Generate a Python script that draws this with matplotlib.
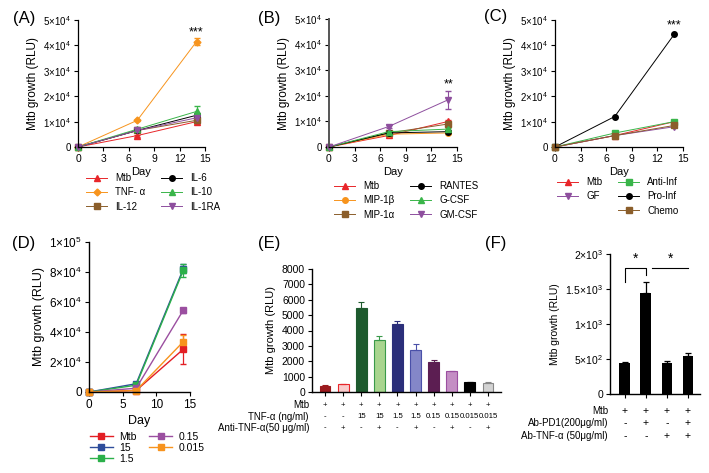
import matplotlib
matplotlib.use('Agg')
import matplotlib.pyplot as plt
import numpy as np

plt.rcParams['font.family'] = ['Liberation Sans', 'DejaVu Sans']
plt.rcParams['font.size'] = 7
plt.rcParams['mathtext.fontset'] = 'custom'
plt.rcParams['mathtext.rm'] = 'Liberation Sans'
plt.rcParams['mathtext.it'] = 'Liberation Sans'
plt.rcParams['mathtext.default'] = 'regular'

W, H = 709, 473
days = [0, 7, 14]

# ---- panel A: cytokines (RLU)
a_names = ['Mtb', 'TNF- α', 'IL-12', 'IL-6', 'IL-10', 'IL-1RA']
a_vals = [[0, 4500, 10000], [0, 10500, 41500], [0, 6500, 10500],
          [0, 6500, 12500], [0, 7000, 14000], [0, 6500, 11500]]
a_errs = [[0, 400, 500], [0, 300, 1500], [0, 300, 800],
          [0, 400, 1000], [0, 400, 2000], [0, 300, 800]]
a_sty = [('#e8262a', '^'), ('#f7941d', 'D'), ('#8b5e2b', 's'),
         ('black', 'o'), ('#3ab54a', '^'), ('#8e4f9e', 'v')]

# ---- panel B: chemokines / CSF
b_names = ['Mtb', 'MIP-1β', 'MIP-1α', 'RANTES', 'G-CSF', 'GM-CSF']
b_vals = [[0, 4500, 10000], [0, 5000, 5500], [0, 5500, 9000],
          [0, 5500, 6000], [0, 6000, 7000], [0, 8000, 18500]]
b_errs = [[0, 300, 600], [0, 300, 600], [0, 300, 600],
          [0, 300, 500], [0, 300, 500], [0, 500, 3500]]
b_sty = [('#e8262a', '^'), ('#f7941d', 'o'), ('#8b5e2b', 's'),
         ('black', 'o'), ('#3ab54a', '^'), ('#8e4f9e', 'v')]

# ---- panel C: groups
c_names = ['Mtb', 'GF', 'Anti-Inf', 'Pro-Inf', 'Chemo']
c_vals = [[0, 4500, 10000], [0, 4500, 8000], [0, 5500, 10000],
          [0, 12000, 44500], [0, 4500, 8500]]
c_sty = [('#e8262a', '^'), ('#8e4f9e', 'v'), ('#3ab54a', 's'),
         ('black', 'o'), ('#8b5e2b', 's')]

# ---- panel D: TNF dose
d_names = ['Mtb', '15', '1.5', '0.15', '0.015']
d_vals = [[0, 1000, 28500], [0, 5500, 82000], [0, 4500, 81000],
          [0, 2500, 54500], [0, 1000, 33500]]
d_errs = [[0, 300, 10000], [0, 300, 3000], [0, 300, 4500],
          [0, 300, 1500], [0, 300, 4500]]
d_cols = ['#e31e24', '#2e4d9b', '#2bb04a', '#9b4fa0', '#f7931e']

# ---- panel E: bars
e_vals = [400, 500, 5450, 3400, 4400, 2750, 1950, 1350, 650, 600]
e_errs = [40, 50, 400, 250, 250, 400, 100, 40, 30, 30]
e_face = ['#9b1b1e', '#f9cccc', '#1e5a2e', '#a9d58f', '#2b2f7a',
          '#8487c8', '#5c1e52', '#c48ec4', 'black', '#d3d3d3']
e_edge = ['#9b1b1e', '#e8262a', '#1e5a2e', '#3a9a4a', '#2b2f7a',
          '#4a50a8', '#5c1e52', '#9b4fa0', 'black', '#888888']
e_mtb = ['+'] * 10
e_tnf = ['-', '-', '15', '15', '1.5', '1.5', '0.15', '0.15', '0.015', '0.015']
e_anti = ['-', '+'] * 5

# ---- panel F: bars
f_vals = [440, 1450, 450, 550]
f_errs = [15, 150, 25, 40]
f_mtb = ['+'] * 4
f_pd1 = ['-', '+', '-', '+']
f_tnf = ['-', '-', '+', '+']


def px(l, t, r, b):
    return [l / W, 1 - b / H, (r - l) / W, (b - t) / H]


def style(ax, lw=0.9, ls=7.5):
    for s in ['top', 'right']:
        ax.spines[s].set_visible(False)
    for s in ['left', 'bottom']:
        ax.spines[s].set_linewidth(lw)
    ax.tick_params(direction='out', length=3, width=0.8, labelsize=ls, pad=2)


def sup(n, e):
    return r'$%s{\times}10^{%d}$' % (n, e)


fig = plt.figure(figsize=(W / 100, H / 100), dpi=100)


def line_panel(rect, names, vals, errs, sty, stars, star_x, star_y, leg_xy, blank=None):
    ax = fig.add_axes(px(*rect))
    style(ax)
    hs = []
    for i in range(len(names)):
        c, m = sty[i]
        e = errs[i] if errs is not None else None
        h = ax.errorbar(days, vals[i], yerr=e, color=c, marker=m, ms=4 if m != 'D' else 3.5,
                        lw=0.7, elinewidth=0.8, capsize=2, clip_on=False, label=names[i])
        hs.append(h[0])
    ax.set_xlim(0, 15)
    ax.set_ylim(0, 50000)
    ax.set_xticks([0, 3, 6, 9, 12, 15])
    ax.set_yticks([0, 10000, 20000, 30000, 40000, 50000])
    ax.set_yticklabels(['0'] + [sup(k, 4) for k in range(1, 6)], fontsize=7)
    ax.set_xlabel('Day', fontsize=8, labelpad=2)
    ax.set_ylabel('Mtb growth (RLU)', fontsize=8.5, labelpad=3)
    ax.text(star_x, star_y, stars, ha='center', va='bottom', fontsize=9)
    labels = list(names)
    if blank is not None:
        hs.insert(blank, plt.Line2D([], [], color='none'))
        labels.insert(blank, '')
    fig.legend(hs, labels, loc='upper left', bbox_to_anchor=(leg_xy[0] / W, 1 - leg_xy[1] / H),
               ncol=2, frameon=False, fontsize=7, handlelength=2.2, labelspacing=0.45,
               columnspacing=1.6, borderpad=0, borderaxespad=0, handletextpad=0.8)
    return ax


line_panel((78, 20, 205, 147), a_names, a_vals, a_errs, a_sty, '***', 14, 42800, (86, 173))
axb = line_panel((329, 19, 457, 147), b_names, b_vals, b_errs, b_sty, '**', 14, 22000, (334, 181))
axb.spines['left'].set_color('#555555')
axb.spines['left'].set_linewidth(1.4)
line_panel((555, 20, 683, 147), c_names, c_vals, None, c_sty, '***', 14, 45500, (557, 177), blank=2)
fig.text(24 / W, 1 - 18 / H, '(A)', fontsize=12, ha='center', va='center')
fig.text(269 / W, 1 - 18 / H, '(B)', fontsize=12, ha='center', va='center')
fig.text(496 / W, 1 - 17 / H, '(C)', fontsize=12, ha='center', va='center')

# ---- D
ax = fig.add_axes(px(89, 242, 190, 392))
style(ax, 1.0, 8.5)
hs = []
for i in range(len(d_names)):
    h = ax.errorbar(days, d_vals[i], yerr=d_errs[i], color=d_cols[i], marker='s', ms=4,
                    lw=1.0, elinewidth=0.9, capsize=2, clip_on=False, label=d_names[i])
    hs.append(h[0])
ax.set_xlim(0, 15)
ax.set_ylim(0, 100000)
ax.set_xticks([0, 5, 10, 15])
ax.set_yticks([0, 20000, 40000, 60000, 80000, 100000])
ax.set_yticklabels(['0', sup(2, 4), sup(4, 4), sup(6, 4), sup(8, 4), sup(1, 5)])
ax.set_xlabel('Day', fontsize=9, labelpad=3)
ax.set_ylabel('Mtb growth (RLU)', fontsize=9, labelpad=3)
fig.legend(hs, d_names, loc='upper left', bbox_to_anchor=(90 / W, 1 - 432 / H), ncol=2,
           frameon=False, fontsize=7.5, handlelength=2.2, labelspacing=0.1, columnspacing=1.2,
           borderpad=0, borderaxespad=0, handletextpad=0.6)
fig.text(24 / W, 1 - 243 / H, '(D)', fontsize=12, ha='center', va='center')

# ---- E
ax = fig.add_axes(px(312, 269, 501, 392))
style(ax, 1.0, 7.5)
x = np.arange(len(e_vals))
ax.bar(x, e_vals, width=0.6, color=e_face, edgecolor=e_edge, linewidth=0.8)
for i in range(len(e_vals)):
    ax.errorbar(x[i], e_vals[i], yerr=[[0], [e_errs[i]]], color=e_edge[i], capsize=2,
                elinewidth=0.8, capthick=0.8)
ax.set_xlim(-0.72, 9.72)
ax.set_ylim(0, 8000)
ax.set_yticks(range(0, 8001, 1000))
ax.set_xticks(x)
ax.set_xticklabels([])
ax.set_ylabel('Mtb growth (RLU)', fontsize=8)
rows = [('Mtb', e_mtb, 405), ('TNF-α (ng/ml)', e_tnf, 417), ('Anti-TNF-α(50 μg/ml)', e_anti, 428)]
for lab, vals, yp in rows:
    fig.text(309 / W, 1 - yp / H, lab, ha='right', va='center', fontsize=7)
    for i, v in enumerate(vals):
        ax.text(x[i], -(yp - 392) / 123, v, transform=ax.get_xaxis_transform(),
                ha='center', va='center', fontsize=5.6)
fig.text(269 / W, 1 - 243 / H, '(E)', fontsize=12, ha='center', va='center')

# ---- F
ax = fig.add_axes(px(610, 254, 700, 394))
style(ax, 1.0, 7.5)
x = np.arange(len(f_vals))
ax.bar(x, f_vals, width=0.52, color='black')
ax.errorbar(x, f_vals, yerr=[np.zeros(len(f_vals)), f_errs], fmt='none', color='black',
            capsize=2, elinewidth=0.9, capthick=0.9)
ax.set_xlim(-0.71, 3.57)
ax.set_ylim(0, 2000)
ax.set_yticks([0, 500, 1000, 1500, 2000])
ax.set_yticklabels(['0', sup(5, 2), sup(1, 3), sup(1.5, 3), sup(2, 3)])
ax.set_xticks(x)
ax.set_xticklabels([])
ax.set_ylabel('Mtb growth (RLU)', fontsize=7.5)
ax.plot([0, 0, 1, 1], [1600, 1800, 1800, 1700], color='black', lw=0.8, clip_on=False)
ax.text(0.5, 1830, '*', ha='center', va='bottom', fontsize=10)
ax.plot([1.3, 3.0], [1800, 1800], color='black', lw=0.8, clip_on=False)
ax.text(2.15, 1830, '*', ha='center', va='bottom', fontsize=10)
rows = [('Mtb', f_mtb, 411), ('Ab-PD1(200μg/ml)', f_pd1, 423), ('Ab-TNF-α (50μg/ml)', f_tnf, 436)]
for lab, vals, yp in rows:
    fig.text(608 / W, 1 - yp / H, lab, ha='right', va='center', fontsize=7)
    for i, v in enumerate(vals):
        ax.text(x[i], -(yp - 394) / 140, v, transform=ax.get_xaxis_transform(),
                ha='center', va='center', fontsize=7.5)
fig.text(496 / W, 1 - 243 / H, '(F)', fontsize=12, ha='center', va='center')

fig.savefig('out.png', dpi=100)
